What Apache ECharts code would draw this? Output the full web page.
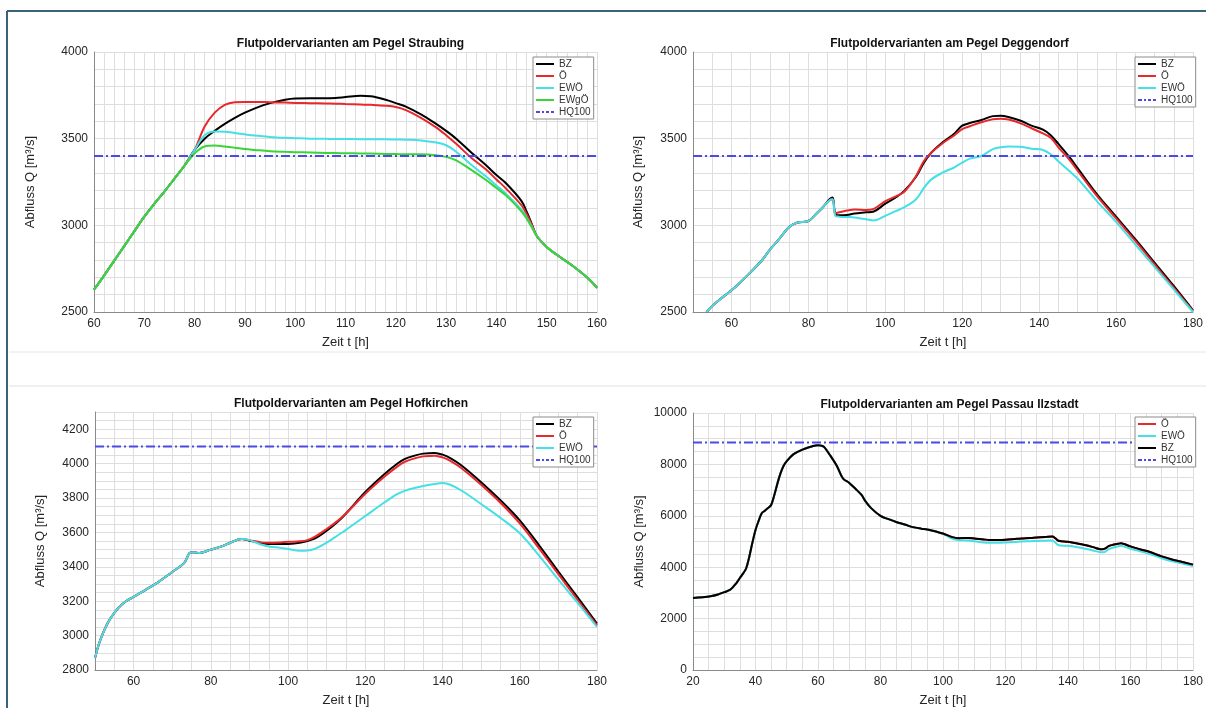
<!DOCTYPE html>
<html>
<head>
<meta charset="utf-8">
<script src="https://cdn.jsdelivr.net/npm/echarts@6/dist/echarts.min.js"></script>
<style>
html,body{margin:0;padding:0;background:#fff;}
#chart{width:1206px;height:708px;}
</style>
</head>
<body>
<div id="chart"></div>
<script>
// ---------- Panel 1: Straubing ----------
const straubingTime = [60,62,64,66,68,70,72,74,76,78,80,82,84,86,88,90,92,95,98,100,103,106,108,110,113,115,118,120,122,125,128,130,132,135,138,140,142,145,146,147,148,150,152,155,158,160];
const straubingBZ   = [2629,2710,2795,2880,2965,3050,3125,3195,3270,3345,3435,3500,3545,3585,3620,3650,3675,3705,3725,3732,3733,3733,3735,3740,3747,3745,3725,3705,3685,3640,3585,3545,3500,3420,3345,3290,3240,3140,3080,3010,2940,2875,2830,2770,2700,2640];
const straubingO    = [2629,2710,2795,2880,2965,3050,3125,3195,3270,3345,3435,3570,3650,3695,3710,3712,3712,3710,3708,3706,3705,3703,3702,3700,3697,3695,3690,3683,3665,3620,3565,3520,3470,3390,3320,3265,3210,3115,3065,3005,2940,2875,2830,2770,2700,2640];
const straubingEWO  = [2629,2710,2795,2880,2965,3050,3125,3195,3270,3345,3435,3520,3542,3540,3533,3525,3518,3510,3505,3503,3500,3499,3498,3498,3497,3497,3496,3495,3494,3490,3478,3462,3425,3350,3280,3230,3180,3090,3045,2995,2940,2875,2830,2770,2700,2640];
const straubingEWgO = [2629,2710,2795,2880,2965,3050,3125,3195,3270,3345,3415,3455,3460,3455,3448,3440,3435,3428,3424,3422,3420,3418,3417,3416,3415,3414,3412,3411,3410,3410,3405,3395,3375,3320,3260,3215,3170,3080,3040,2990,2940,2875,2830,2770,2700,2640];
const straubingHQ100 = 3400;
const straubingXTicks = [60,70,80,90,100,110,120,130,140,150,160];
const straubingYTicks = [2500,3000,3500,4000];

// ---------- Panel 2: Deggendorf ----------
const deggTime = [53.5,55,58,60,62,65,68,70,72,75,77,80,82,84,85.5,86.3,87,88,90,92,95,97,100,103,105,108,110,112,115,118,120,122,125,128,130,132,135,138,141,143,145,148,150,155,160,165,170,175,180];
const deggBZ  = [2500,2535,2590,2625,2665,2730,2800,2860,2910,2990,3015,3025,3065,3110,3150,3160,3065,3058,3060,3068,3075,3080,3125,3165,3200,3280,3360,3420,3480,3530,3575,3590,3608,3630,3632,3625,3605,3575,3552,3520,3470,3390,3330,3180,3050,2920,2785,2650,2510];
const deggO   = [2500,2535,2590,2625,2665,2730,2800,2860,2910,2990,3015,3025,3065,3110,3145,3150,3070,3075,3085,3092,3088,3095,3140,3170,3195,3285,3370,3420,3475,3520,3555,3572,3595,3612,3615,3610,3590,3560,3530,3505,3450,3375,3315,3170,3040,2910,2775,2640,2505];
const deggEWO = [2500,2535,2590,2625,2665,2730,2800,2860,2910,2990,3015,3025,3065,3110,3145,3150,3055,3050,3048,3045,3035,3028,3055,3085,3105,3150,3215,3265,3305,3335,3362,3385,3400,3440,3450,3455,3453,3442,3435,3410,3370,3310,3270,3140,3020,2890,2760,2630,2500];
const deggHQ100 = 3400;
const deggXTicks = [60,80,100,120,140,160,180];
const deggYTicks = [2500,3000,3500,4000];

// ---------- Panel 3: Hofkirchen ----------
const hofTime = [50,51,52,53,54,56,58,60,63,66,70,73,74.5,75.5,77,80,83,85,88,90,93,95,98,100,103,105,107,110,113,115,120,125,128,130,133,135,138,140,142,145,150,155,160,165,170,175,180];
const hofBZ  = [2870,2950,3010,3060,3100,3160,3200,3225,3265,3305,3370,3420,3480,3485,3480,3500,3520,3540,3562,3552,3538,3532,3532,3533,3540,3550,3565,3610,3665,3710,3835,3940,3995,4025,4048,4058,4062,4052,4032,3988,3892,3787,3670,3525,3372,3222,3070];
const hofO   = [2870,2950,3010,3060,3100,3160,3200,3225,3265,3305,3370,3420,3480,3485,3480,3500,3520,3540,3562,3555,3542,3540,3542,3545,3548,3555,3575,3620,3670,3710,3825,3925,3978,4008,4032,4042,4046,4036,4016,3972,3877,3772,3652,3507,3357,3207,3060];
const hofEWO = [2870,2950,3010,3060,3100,3160,3200,3225,3265,3305,3370,3420,3480,3485,3480,3500,3520,3540,3562,3555,3530,3518,3510,3503,3493,3495,3505,3540,3585,3615,3695,3775,3820,3840,3860,3870,3882,3887,3877,3842,3765,3685,3595,3465,3325,3190,3050];
const hofHQ100 = 4100;
const hofXTicks = [60,80,100,120,140,160,180];
const hofYTicks = [2800,3000,3200,3400,3600,3800,4000,4200];

// ---------- Panel 4: Passau Ilzstadt ----------
const pasTime = [20,23,26,28,30,32,34,35,36,37,38,39,40,41,42,43,44,45,46,47,48,49,50,52,54,56,58,60,61,62,64,66,68,70,72,74,75,77,80,83,85,88,90,93,95,98,100,103,105,108,110,113,115,118,120,123,125,128,130,133,135,136,137,140,143,145,148,150,151,152,153,154,156,157,158,160,163,166,170,173,176,180];
const pasO   = [2800,2830,2880,2940,3030,3130,3400,3580,3750,3950,4400,4950,5450,5800,6100,6200,6300,6420,6800,7250,7650,7950,8130,8380,8520,8620,8700,8750,8730,8670,8330,7950,7450,7280,7050,6800,6600,6300,6000,5850,5760,5650,5570,5500,5470,5380,5310,5170,5130,5140,5120,5080,5060,5060,5070,5100,5120,5140,5160,5180,5190,5120,5030,4990,4920,4870,4780,4710,4700,4735,4820,4860,4910,4930,4900,4810,4700,4600,4420,4310,4220,4100];
const pasEWO = [2800,2830,2880,2940,3030,3130,3400,3580,3750,3950,4400,4950,5450,5800,6100,6200,6300,6420,6800,7250,7650,7950,8130,8380,8520,8620,8700,8750,8730,8670,8330,7950,7450,7280,7050,6800,6600,6300,6000,5850,5760,5650,5570,5500,5470,5380,5300,5100,5050,5040,5010,4960,4950,4950,4960,4980,5000,5010,5020,5030,5040,4950,4850,4830,4780,4730,4650,4590,4580,4610,4700,4750,4810,4830,4800,4720,4620,4520,4350,4240,4160,4050];
const pasBZ  = [2800,2830,2880,2940,3030,3130,3400,3580,3750,3950,4400,4950,5450,5800,6100,6200,6300,6420,6800,7250,7650,7950,8130,8380,8520,8620,8700,8750,8730,8670,8330,7950,7450,7280,7050,6800,6600,6300,6000,5850,5760,5650,5570,5500,5470,5380,5310,5170,5130,5140,5120,5080,5060,5060,5070,5100,5120,5140,5160,5180,5190,5120,5030,4990,4920,4870,4780,4710,4700,4735,4820,4860,4910,4930,4900,4810,4700,4600,4420,4310,4220,4100];
const pasHQ100 = 8850;
const pasXTicks = [20,40,60,80,100,120,140,160,180];
const pasYTicks = [0,2000,4000,6000,8000,10000];

// ---------- styling ----------
const FONT = '"Liberation Sans", Arial, sans-serif';
const COLORS = {BZ:'#000000', O:'#e8282b', EWO:'#45e0e6', EWgO:'#38d438', HQ:'#4a4ae6'};
const ICON_SOLID = 'path://M0,0h18v2h-18z';
const ICON_DASH = 'path://M0,0h4v2h-4z M6,0h2v2h-2z M10,0h3v2h-3z M15,0h3v2h-3z';
const titles = [
  'Flutpoldervarianten am Pegel Straubing',
  'Flutpoldervarianten am Pegel Deggendorf',
  'Flutpoldervarianten am Pegel Hofkirchen',
  'Flutpoldervarianten am Pegel Passau Ilzstadt'
];
const grids = [
  {left:94, top:52, width:503, height:260},
  {left:693, top:52, width:503, height:260},
  {left:95, top:412, width:502, height:260},
  {left:693, top:413, width:503, height:259}
];

function zip(t, v){ return t.map((x,i)=>[x, v[i]]); }

function xAxis(idx, min, max, step, ticks){
  return {
    type:'value', gridIndex:idx, min:min, max:max, interval:step,
    name:'Zeit t [h]', nameLocation:'middle', nameGap:24,
    nameTextStyle:{fontSize:13, color:'#262626', fontFamily:FONT},
    axisLine:{show:true, lineStyle:{color:'#8a8a8a', width:1}},
    axisTick:{show:false},
    axisLabel:{fontSize:12, color:'#262626', margin:6, fontFamily:FONT, showMinLabel:true, showMaxLabel:true,
      formatter: v => ticks.includes(Math.round(v)) && Math.abs(v-Math.round(v))<1e-6 ? String(Math.round(v)) : ''},
    splitLine:{show:true, lineStyle:{color:'#dedede', width:1}}
  };
}
function yAxis(idx, min, max, step, ticks, gap){
  return {
    type:'value', gridIndex:idx, min:min, max:max, interval:step,
    name:'Abfluss Q [m³/s]', nameLocation:'middle', nameGap:gap, nameRotate:90,
    nameTextStyle:{fontSize:13, color:'#262626', fontFamily:FONT},
    axisLine:{show:true, lineStyle:{color:'#8a8a8a', width:1}},
    axisTick:{show:false},
    axisLabel:{fontSize:12, color:'#262626', margin:6, fontFamily:FONT, showMinLabel:true, showMaxLabel:true,
      formatter: v => ticks.includes(Math.round(v)) ? String(Math.round(v)) : ''},
    splitLine:{show:true, lineStyle:{color:'#dedede', width:1}}
  };
}
function line(name, idx, data, color){
  return {
    name:name, type:'line', xAxisIndex:idx, yAxisIndex:idx, data:data,
    symbol:'none', smooth:0.35, clip:true,
    lineStyle:{color:color, width:2}, itemStyle:{color:color}, emphasis:{disabled:true}, silent:true
  };
}
function hq(idx, min, max, v){
  return {
    name:'HQ100', type:'line', xAxisIndex:idx, yAxisIndex:idx, data:[[min,v],[max,v]],
    symbol:'none', lineStyle:{color:COLORS.HQ, width:2, type:[9,3,2,3]}, itemStyle:{color:COLORS.HQ},
    emphasis:{disabled:true}, silent:true
  };
}
function legend(left, top, names){
  return {
    data:names.map(n => ({name:n, icon: n === 'HQ100' ? ICON_DASH : ICON_SOLID})),
    left:left, top:top, orient:'vertical', selectedMode:false, symbolKeepAspect:true,
    backgroundColor:'#ffffff', borderColor:'#8c8c8c', borderWidth:1, borderRadius:0,
    padding:[2,3,2,3], itemGap:2, itemWidth:18, itemHeight:10,
    textStyle:{fontSize:10, color:'#333', fontFamily:FONT}
  };
}

const option = {
  animation:false,
  textStyle:{fontFamily:FONT},
  title: titles.map((t,i)=>({
    text:t, left: grids[i].left + grids[i].width/2, top: grids[i].top - 19, textAlign:'center',
    textStyle:{fontSize:12, fontWeight:'bold', color:'#111', fontFamily:FONT}
  })),
  grid: grids,
  xAxis:[
    xAxis(0, 60, 160, 2, straubingXTicks),
    xAxis(1, 50, 180, 5, deggXTicks),
    xAxis(2, 50, 180, 5, hofXTicks),
    xAxis(3, 20, 180, 5, pasXTicks)
  ],
  yAxis:[
    yAxis(0, 2500, 4000, 100, straubingYTicks, 57),
    yAxis(1, 2500, 4000, 100, deggYTicks, 48),
    yAxis(2, 2800, 4300, 50, hofYTicks, 48),
    yAxis(3, 0, 10000, 500, pasYTicks, 47)
  ],
  legend:[
    legend(533, 57, ['BZ','Ö','EWÖ','EWgÖ','HQ100']),
    legend(1135, 57, ['BZ','Ö','EWÖ','HQ100']),
    legend(533, 417, ['BZ','Ö','EWÖ','HQ100']),
    legend(1135, 417, ['Ö','EWÖ','BZ','HQ100'])
  ],
  series:[
    line('BZ', 0, zip(straubingTime, straubingBZ), COLORS.BZ),
    line('Ö', 0, zip(straubingTime, straubingO), COLORS.O),
    line('EWÖ', 0, zip(straubingTime, straubingEWO), COLORS.EWO),
    line('EWgÖ', 0, zip(straubingTime, straubingEWgO), COLORS.EWgO),
    hq(0, 60, 160, straubingHQ100),

    line('BZ', 1, zip(deggTime, deggBZ), COLORS.BZ),
    line('Ö', 1, zip(deggTime, deggO), COLORS.O),
    line('EWÖ', 1, zip(deggTime, deggEWO), COLORS.EWO),
    hq(1, 50, 180, deggHQ100),

    line('BZ', 2, zip(hofTime, hofBZ), COLORS.BZ),
    line('Ö', 2, zip(hofTime, hofO), COLORS.O),
    line('EWÖ', 2, zip(hofTime, hofEWO), COLORS.EWO),
    hq(2, 50, 180, hofHQ100),

    line('Ö', 3, zip(pasTime, pasO), COLORS.O),
    line('EWÖ', 3, zip(pasTime, pasEWO), COLORS.EWO),
    line('BZ', 3, zip(pasTime, pasBZ), COLORS.BZ),
    hq(3, 20, 180, pasHQ100)
  ],
  graphic:[
    {type:'line', shape:{x1:7, y1:11, x2:1206, y2:11}, style:{stroke:'#3b6378', lineWidth:2}, silent:true},
    {type:'line', shape:{x1:7, y1:11, x2:7, y2:708}, style:{stroke:'#3b6378', lineWidth:2}, silent:true},
    {type:'line', shape:{x1:9, y1:352, x2:1206, y2:352}, style:{stroke:'#e6e6e6', lineWidth:1}, silent:true},
    {type:'line', shape:{x1:9, y1:386, x2:1206, y2:386}, style:{stroke:'#e0e0e0', lineWidth:1}, silent:true}
  ]
};

const chart = echarts.init(document.getElementById('chart'), null, {renderer:'canvas'});
chart.setOption(option);
</script>
</body>
</html>
